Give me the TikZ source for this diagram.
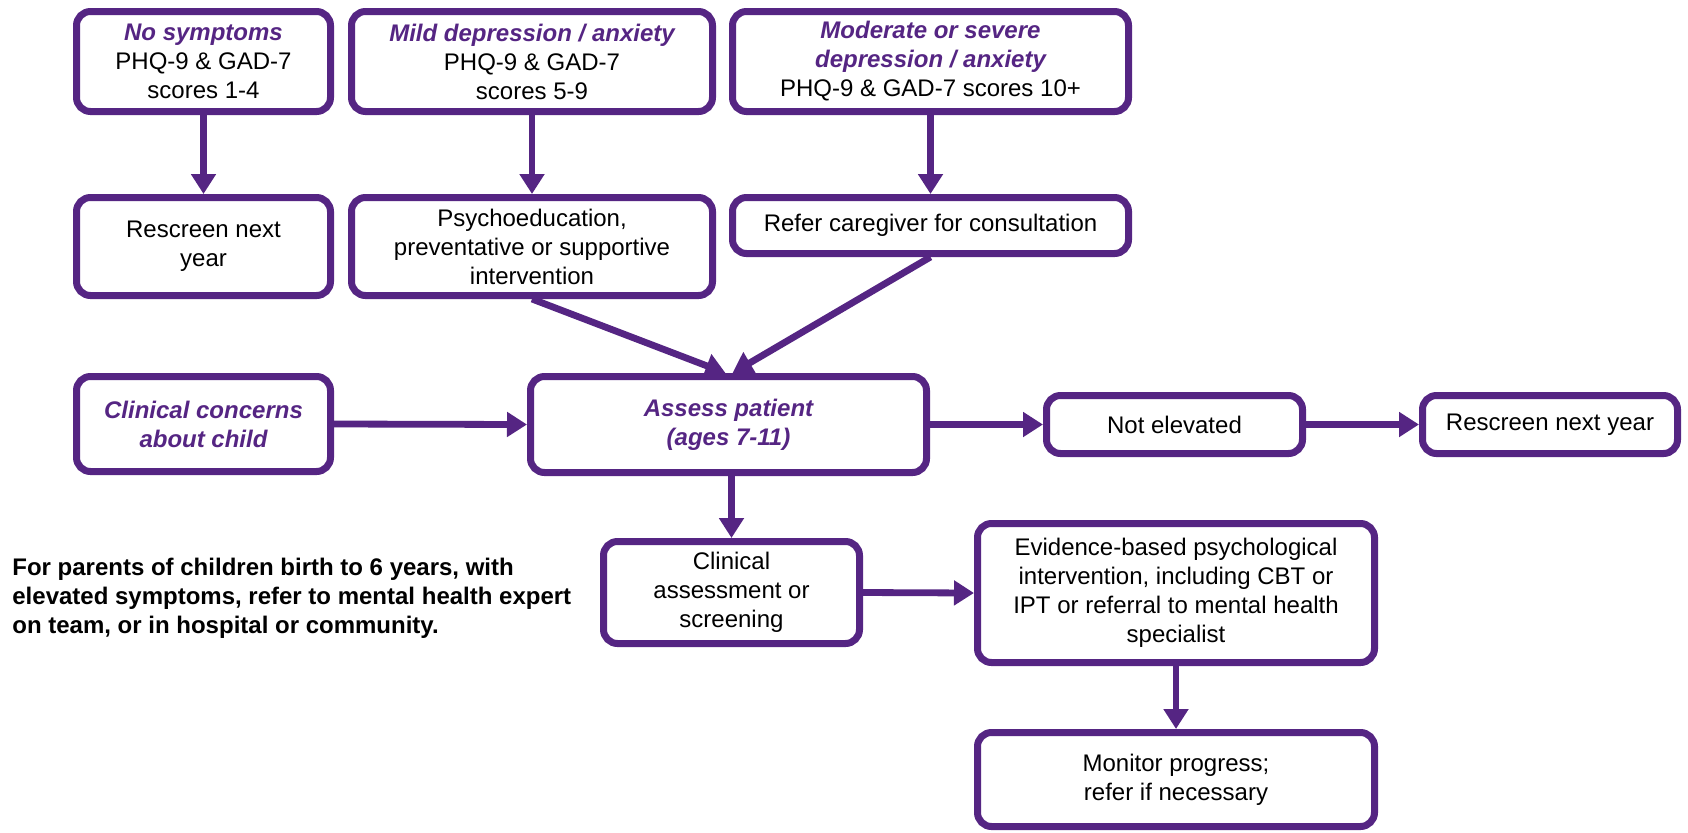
\documentclass[tikz,border=0pt]{standalone}
\usepackage{fontspec}
\setmainfont{Liberation Sans}
\usetikzlibrary{arrows.meta}
\definecolor{pp}{RGB}{85,37,131}
\newcommand\purpletitle[1]{{\color{pp}\bfseries\itshape #1}}
\begin{document}
\begin{tikzpicture}[x=0.5pt,y=-0.5pt,
  box/.style={draw=pp, line width=3.5pt, rounded corners=7pt, fill=white, align=center,
    inner sep=0pt, font=\fontsize{12}{14.5}\selectfont, text=black},
  arr/.style={draw=pp, line width=3.4pt, -{Triangle[length=10pt,width=12pt]}}]
\useasboundingbox (0,0) rectangle (1688,832);

% top row
\node[box, minimum width=127pt, minimum height=50pt] (nosym) at (203.5,61.5)
  {\purpletitle{No symptoms}\\PHQ-9 \& GAD-7\\scores 1-4};
\node[box, minimum width=180.5pt, minimum height=50pt] (mild) at (532,61.5)
  {\purpletitle{Mild depression / anxiety}\\PHQ-9 \& GAD-7\\scores 5-9};
\node[box, minimum width=198pt, minimum height=50pt] (moder) at (930.5,61.5)
  {\purpletitle{Moderate or severe}\\\purpletitle{depression / anxiety}\\PHQ-9 \& GAD-7 scores 10+};

% second row
\node[box, minimum width=127pt, minimum height=49pt] (resc1) at (203.5,246.5)
  {Rescreen next\\year};
\node[box, minimum width=180.5pt, minimum height=49pt] (psycho) at (532,246.5)
  {Psychoeducation,\\preventative or supportive\\intervention};
\node[box, minimum width=198pt, minimum height=28pt] (refer) at (930.5,225.5)
  {Refer caregiver for consultation};

% middle row
\node[box, minimum width=127pt, minimum height=47.5pt] (concern) at (203.5,424)
  {\purpletitle{Clinical concerns}\\\purpletitle{about child}};
\node[box, minimum width=198pt, minimum height=48pt] (assess) at (728.5,424.5)
  {\purpletitle{Assess patient}\\\purpletitle{(ages 7-11)}};
\node[box, minimum width=128pt, minimum height=29pt] (notel) at (1174.5,424.5)
  {Not elevated};
\node[box, minimum width=127.5pt, minimum height=29pt] (resc2) at (1550,424.5)
  {Rescreen next year};

% lower part
\node[box, minimum width=128pt, minimum height=51pt] (clin) at (731.5,592.5)
  {Clinical\\assessment or\\screening};
\node[box, minimum width=198.5pt, minimum height=69.5pt] (evid) at (1176,593)
  {Evidence-based psychological\\intervention, including CBT or\\IPT or referral to mental health\\specialist};
\node[box, minimum width=198.5pt, minimum height=47pt] (monit) at (1176,779.5)
  {Monitor progress;\\refer if necessary};

\node[anchor=west, align=left, inner sep=0pt, font=\fontsize{12}{14.5}\selectfont\bfseries] (note) at (12,598)
  {For parents of children birth to 6 years, with\\elevated symptoms, refer to mental health expert\\on team, or in hospital or community.};

% connectors
\draw[arr] (nosym.south) -- (resc1.north);
\draw[arr] (mild.south) -- (psycho.north);
\draw[arr] (moder.south) -- (refer.north);
\draw[arr] (psycho.south) -- ([xshift=-1.5pt]assess.north);
\draw[arr] (refer.south) -- ([xshift=2pt]assess.north);
\draw[arr] (concern.east) -- (assess.west);
\draw[arr] (assess.east) -- (notel.west);
\draw[arr] (notel.east) -- (resc2.west);
\draw[arr] (assess.south -| clin.north) -- (clin.north);
\draw[arr] (clin.east) -- (evid.west);
\draw[arr] (evid.south) -- (monit.north);
\end{tikzpicture}
\end{document}
